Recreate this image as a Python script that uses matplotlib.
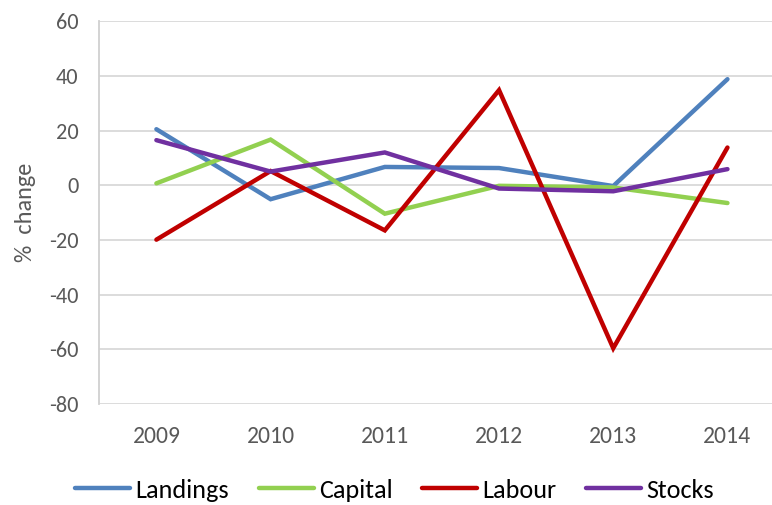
import matplotlib
matplotlib.use("Agg")
import matplotlib.pyplot as plt

years = ["2009", "2010", "2011", "2012", "2013", "2014"]
landings = [20.5, -5.1, 6.7, 6.3, -0.3, 38.8]
capital = [0.7, 16.7, -10.4, -0.2, -0.8, -6.5]
labour = [-19.9, 5.2, -16.5, 34.8, -59.6, 13.8]
stocks = [16.5, 5.0, 12.0, -1.2, -2.2, 5.9]

series = [("Landings", landings, "#4F81BD"),
          ("Capital", capital, "#92D050"),
          ("Labour", labour, "#C00000"),
          ("Stocks", stocks, "#7030A0")]

plt.rcParams['font.family'] = ['Carlito', 'Lato', 'DejaVu Sans']
plt.rcParams['axes.unicode_minus'] = False

fig = plt.figure(figsize=(7.72, 5.05), dpi=100)
ax = fig.add_axes([0.1286, 0.2, 1 - 0.1286, 0.958 - 0.2])

x = list(range(len(years)))
for name, vals, col in series:
    ax.plot(x, vals, color=col, lw=3.2, label=name, solid_capstyle='round',
            solid_joinstyle='miter')

ax.set_ylim(-80, 60)
ax.set_yticks(range(-80, 61, 20))
ax.set_xlim(-0.5, 5.39)
ax.set_xticks(x)
ax.set_xticklabels(years)
ax.yaxis.grid(True, color="#D9D9D9", lw=1.3)
ax.set_axisbelow(True)
for s in ["top", "right", "bottom"]:
    ax.spines[s].set_visible(False)
ax.spines["left"].set_color("#D0D0D0")
ax.spines["left"].set_linewidth(1.3)
ax.tick_params(axis="both", length=0, colors="#595959")
ax.tick_params(axis="x", pad=16, labelsize=17)
ax.tick_params(axis="y", pad=15, labelsize=16)
ax.set_ylabel("%  change", fontsize=17.5, color="#595959", labelpad=9)

leg = ax.legend(loc="center", bbox_to_anchor=(0.439, -0.2247), ncol=4,
                frameon=False, fontsize=18.8, handlelength=2.1, columnspacing=1.15,
                handletextpad=0.19)

fig.savefig("out.png", dpi=100)
